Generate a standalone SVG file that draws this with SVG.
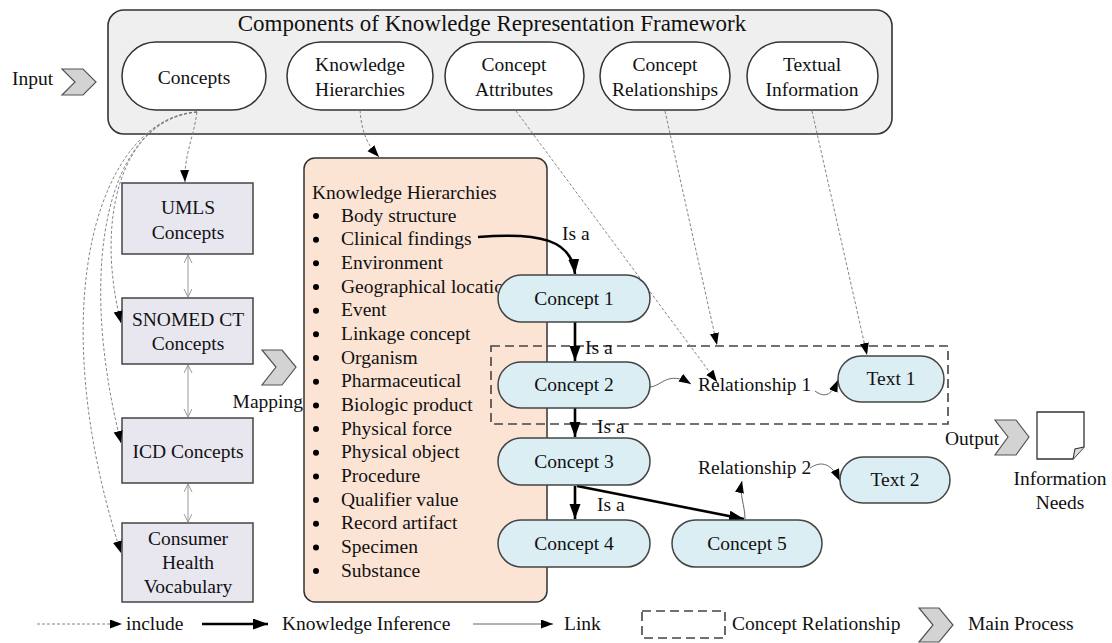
<svg xmlns="http://www.w3.org/2000/svg" width="1112" height="643" viewBox="0 0 1112 643">
<defs>
<style>
text{font-family:"Liberation Serif","Times New Roman",serif;font-size:19.5px;fill:#111}
.c{text-anchor:middle}
.oval{fill:#fff;stroke:#333;stroke-width:1.5}
.box{fill:#e8e7f0;stroke:#444;stroke-width:1.5}
.cn{fill:#dbeef4;stroke:#444;stroke-width:1.5}
.chev{fill:#d3d3d3;stroke:#555;stroke-width:1.2}
.inc{fill:none;stroke:#777;stroke-width:0.9;stroke-dasharray:3 2}
.thick{fill:none;stroke:#000;stroke-width:2.6}
.link{fill:none;stroke:#555;stroke-width:0.9}
.gray{fill:none;stroke:#aaa;stroke-width:1.2}
.dash{fill:none;stroke:#444;stroke-width:1.6;stroke-dasharray:9 5}
</style>
<marker id="mInc" markerUnits="userSpaceOnUse" markerWidth="13" markerHeight="10" refX="12" refY="4.5" orient="auto"><path d="M0,0 L12,4.5 L0,9 Z" fill="#000"/></marker>
<marker id="mThick" markerUnits="userSpaceOnUse" markerWidth="16" markerHeight="12" refX="15" refY="5.5" orient="auto"><path d="M0,0 L15,5.5 L0,11 Z" fill="#000"/></marker>
<marker id="mLink" markerUnits="userSpaceOnUse" markerWidth="13" markerHeight="10" refX="12" refY="4.5" orient="auto"><path d="M0,0 L12,4.5 L0,9 Z" fill="#000"/></marker>
<marker id="mOpen" markerUnits="userSpaceOnUse" markerWidth="10" markerHeight="10" refX="8" refY="4" orient="auto-start-reverse"><path d="M0,0 L8,4 L0,8" fill="none" stroke="#999" stroke-width="1"/></marker>
</defs>
<rect width="1112" height="643" fill="#fff"/>

<g id="framework">
<rect x="108" y="10" width="784" height="124" rx="16" fill="#efefef" stroke="#333" stroke-width="1.6"/>
<text x="492" y="31" class="c" style="font-size:23px">Components of Knowledge Representation Framework</text>
</g>
<g id="n-concepts"><rect x="122" y="42" width="144" height="68" rx="34" class="oval"/><text x="194" y="84" class="c">Concepts</text></g>
<g id="n-kh"><rect x="287" y="42" width="146" height="68" rx="34" class="oval"/><text x="360" y="71" class="c">Knowledge</text><text x="360" y="96" class="c">Hierarchies</text></g>
<g id="n-ca"><rect x="445" y="42" width="139" height="68" rx="34" class="oval"/><text x="514" y="71" class="c">Concept</text><text x="514" y="96" class="c">Attributes</text></g>
<g id="n-cr"><rect x="600" y="42" width="130" height="68" rx="34" class="oval"/><text x="665" y="71" class="c">Concept</text><text x="665" y="96" class="c">Relationships</text></g>
<g id="n-ti"><rect x="747" y="42" width="131" height="68" rx="34" class="oval"/><text x="812" y="71" class="c">Textual</text><text x="812" y="96" class="c">Information</text></g>

<g id="input"><text x="12" y="85">Input</text><path d="M62,69 L83,69 L96,82 L83,95 L62,95 L75,82 Z" class="chev"/></g>

<g id="n-umls"><rect x="122" y="183" width="131" height="71" class="box"/><text x="188" y="214" class="c">UMLS</text><text x="188" y="239" class="c">Concepts</text></g>
<g id="n-snomed"><rect x="122" y="298" width="131" height="66" class="box"/><text x="188" y="326" class="c">SNOMED CT</text><text x="188" y="350" class="c">Concepts</text></g>
<g id="n-icd"><rect x="122" y="418" width="131" height="65" class="box"/><text x="188" y="458" class="c">ICD Concepts</text></g>
<g id="n-chv"><rect x="122" y="523" width="131" height="79" class="box"/><text x="188" y="545" class="c">Consumer</text><text x="188" y="569" class="c">Health</text><text x="188" y="593" class="c">Vocabulary</text></g>

<g id="mapping"><path d="M262,350 L282,350 L296,367 L282,385 L262,385 L276,367 Z" class="chev"/><text x="303" y="408" text-anchor="end">Mapping</text></g>

<g id="n-khlist">
<rect x="304" y="158" width="243" height="444" rx="11" fill="#fce4d5" stroke="#333" stroke-width="1.5"/>
<text x="312" y="198.5">Knowledge Hierarchies</text>
<g fill="#000">
<circle cx="316" cy="216" r="3"/><circle cx="316" cy="239.7" r="3"/><circle cx="316" cy="263.3" r="3"/><circle cx="316" cy="287" r="3"/>
<circle cx="316" cy="310.7" r="3"/><circle cx="316" cy="334.3" r="3"/><circle cx="316" cy="358" r="3"/><circle cx="316" cy="381.7" r="3"/>
<circle cx="316" cy="405.4" r="3"/><circle cx="316" cy="429" r="3"/><circle cx="316" cy="452.7" r="3"/><circle cx="316" cy="476.4" r="3"/>
<circle cx="316" cy="500" r="3"/><circle cx="316" cy="523.7" r="3"/><circle cx="316" cy="547.4" r="3"/><circle cx="316" cy="571" r="3"/>
</g>
<text x="341" y="221.5">Body structure</text>
<text x="341" y="245.2">Clinical findings</text>
<text x="341" y="268.8">Environment</text>
<text x="341" y="292.5">Geographical location</text>
<text x="341" y="316.2">Event</text>
<text x="341" y="339.8">Linkage concept</text>
<text x="341" y="363.5">Organism</text>
<text x="341" y="387.2">Pharmaceutical</text>
<text x="341" y="410.9">Biologic product</text>
<text x="341" y="434.5">Physical force</text>
<text x="341" y="458.2">Physical object</text>
<text x="341" y="481.9">Procedure</text>
<text x="341" y="505.5">Qualifier value</text>
<text x="341" y="529.2">Record artifact</text>
<text x="341" y="552.9">Specimen</text>
<text x="341" y="576.5">Substance</text>
</g>

<g id="concept-relationship-box"><rect x="491" y="346" width="457" height="78" class="dash"/></g>

<g id="connectors">
<path d="M197,112 C193,140 184,155 185,182" class="inc" marker-end="url(#mInc)"/>
<path d="M197,112 C120,120 95,220 121,323" class="inc" marker-end="url(#mInc)"/>
<path d="M197,112 C110,118 75,260 121,443" class="inc" marker-end="url(#mInc)"/>
<path d="M197,112 C100,118 40,300 121,553" class="inc" marker-end="url(#mInc)"/>
<path d="M360,110 C362,135 368,145 379,157" class="inc" marker-end="url(#mInc)"/>
<path d="M516,111 L717,382" class="inc" marker-end="url(#mInc)"/>
<path d="M665,111 L717,345" class="inc" marker-end="url(#mInc)"/>
<path d="M812,111 L867,355" class="inc" marker-end="url(#mInc)"/>
<path d="M188,255 L188,297" class="gray" marker-start="url(#mOpen)" marker-end="url(#mOpen)"/>
<path d="M188,365 L188,417" class="gray" marker-start="url(#mOpen)" marker-end="url(#mOpen)"/>
<path d="M188,484 L188,522" class="gray" marker-start="url(#mOpen)" marker-end="url(#mOpen)"/>
<path d="M478,237 C540,232 572,240 575,274" class="thick" marker-end="url(#mThick)"/>
<path d="M575,322 L575,361" class="thick" marker-end="url(#mThick)"/>
<path d="M575,408 L575,437" class="thick" marker-end="url(#mThick)"/>
<path d="M575,486 L575,519" class="thick" marker-end="url(#mThick)"/>
<path d="M577,486 L744,519" class="thick" marker-end="url(#mThick)"/>
<path d="M650,387 C662,386 668,370 691,384" class="link" marker-end="url(#mLink)"/>
<path d="M815,391 C826,399 832,394 838,380" class="link" marker-end="url(#mLink)"/>
<path d="M745,519 C745,505 739,495 742,481" class="link" marker-end="url(#mLink)"/>
<path d="M810,468 C822,460 832,464 840,481" class="link" marker-end="url(#mLink)"/>
</g>

<g id="labels">
<text x="562" y="240">Is a</text>
<text x="585" y="354">Is a</text>
<text x="597" y="433">Is a</text>
<text x="597" y="511">Is a</text>
<text x="698" y="391">Relationship 1</text>
<text x="698" y="474">Relationship 2</text>
</g>

<g id="n-c1"><rect x="498" y="275" width="152" height="47" rx="23.5" class="cn"/><text x="574" y="305" class="c">Concept 1</text></g>
<g id="n-c2"><rect x="498" y="362" width="152" height="46" rx="23" class="cn"/><text x="574" y="391" class="c">Concept 2</text></g>
<g id="n-c3"><rect x="498" y="438" width="152" height="47" rx="23.5" class="cn"/><text x="574" y="468" class="c">Concept 3</text></g>
<g id="n-c4"><rect x="498" y="520" width="152" height="47" rx="23.5" class="cn"/><text x="574" y="550" class="c">Concept 4</text></g>
<g id="n-c5"><rect x="672" y="520" width="150" height="47" rx="23.5" class="cn"/><text x="747" y="550" class="c">Concept 5</text></g>
<g id="n-t1"><rect x="838" y="356" width="106" height="46" rx="23" class="cn"/><text x="891" y="385" class="c">Text 1</text></g>
<g id="n-t2"><rect x="840" y="457" width="110" height="46" rx="23" class="cn"/><text x="895" y="486" class="c">Text 2</text></g>

<g id="output"><text x="945" y="445">Output</text><path d="M995,420 L1016,420 L1029,437 L1016,455 L995,455 L1008,437 Z" class="chev"/></g>
<g id="n-info">
<path d="M1037,412 H1084 V447 L1073,459 H1037 Z" fill="#fff" stroke="#333" stroke-width="1.3"/>
<path d="M1084,447 L1075,449 L1073,459" fill="#ddd" stroke="#333" stroke-width="1.1"/>
<text x="1060" y="485" class="c">Information</text><text x="1060" y="509" class="c">Needs</text>
</g>

<g id="legend">
<path d="M37,624 L122,624" class="inc" marker-end="url(#mInc)"/>
<text x="126" y="630">include</text>
<path d="M202,624 L268,624" class="thick" marker-end="url(#mThick)"/>
<text x="282" y="630">Knowledge Inference</text>
<path d="M473,624 L553,624" class="link" marker-end="url(#mLink)"/>
<text x="564" y="630">Link</text>
<rect x="642" y="611" width="83" height="27" class="dash"/>
<text x="732" y="630">Concept Relationship</text>
<path d="M919,608 L939,608 L953,625 L939,642 L919,642 L933,625 Z" class="chev"/>
<text x="968" y="630">Main Process</text>
</g>
</svg>
